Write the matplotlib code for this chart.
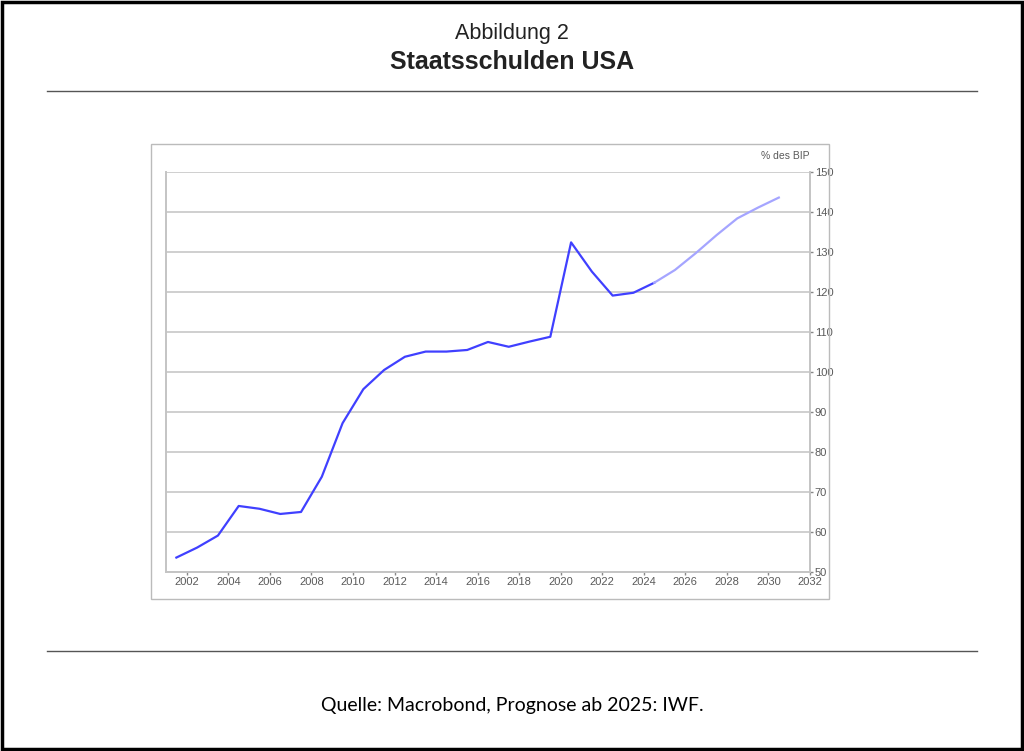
import matplotlib
matplotlib.use("Agg")
import matplotlib.pyplot as plt
from matplotlib.patches import Rectangle
from matplotlib.lines import Line2D

# Staatsschulden USA in % des BIP (ab 2025 Prognose IWF)
years_hist = [2001, 2002, 2003, 2004, 2005, 2006, 2007, 2008, 2009, 2010,
              2011, 2012, 2013, 2014, 2015, 2016, 2017, 2018, 2019, 2020,
              2021, 2022, 2023, 2024]
debt_hist = [53.6, 56.1, 59.1, 66.5, 65.8, 64.5, 65.0, 73.8, 87.2, 95.7,
             100.5, 103.8, 105.1, 105.1, 105.5, 107.5, 106.3, 107.6, 108.8, 132.4,
             125.1, 119.1, 119.8, 122.3]
years_fc = [2024, 2025, 2026, 2027, 2028, 2029, 2030]
debt_fc = [122.3, 125.5, 129.7, 134.2, 138.4, 141.1, 143.6]

x_ticks = list(range(2002, 2033, 2))
y_ticks = list(range(50, 151, 10))

plt.rcParams["font.family"] = ["Liberation Sans", "DejaVu Sans"]

fig = plt.figure(figsize=(10.24, 7.51), dpi=100)
ax = fig.add_axes([0.1621, 0.2384, 0.6289, 0.5326])

# Punkte jeweils zur Jahresmitte
ax.plot([y + 0.5 for y in years_hist], debt_hist, color="#4040ff", lw=1.6,
        solid_joinstyle="round")
ax.plot([y + 0.5 for y in years_fc], debt_fc, color="#a5a5ff", lw=1.6,
        solid_joinstyle="round")

ax.set_xlim(2001, 2032)
ax.set_ylim(50, 150)
ax.set_xticks(x_ticks)
ax.set_yticks(y_ticks)
ax.yaxis.tick_right()
ax.grid(axis="y", color="#cfcfcf", lw=1.4)
ax.set_axisbelow(True)
ax.spines["top"].set_visible(False)
for side in ["left", "right", "bottom"]:
    ax.spines[side].set_color("#c4c4c4")
    ax.spines[side].set_linewidth(1.4)
ax.tick_params(axis="both", labelsize=8, colors="#888888", labelcolor="#5a5a5a",
               length=2, width=1, pad=1.5)
ax.text(1.0, 1.04, "% des BIP", transform=ax.transAxes, ha="right",
        va="center", fontsize=7.5, color="#5a5a5a")

# Rahmen um die Grafik
fig.add_artist(Rectangle((0.1475, 0.2024), 0.662, 0.6059, transform=fig.transFigure,
                         fill=False, edgecolor="#bbbbbb", lw=1))
# Trennlinien
fig.add_artist(Line2D([0.0459, 0.954], [0.8788, 0.8788], color="#555555", lw=1))
fig.add_artist(Line2D([0.0459, 0.954], [0.1332, 0.1332], color="#555555", lw=1))
# äußerer Rahmen
fig.add_artist(Rectangle((0.0015, 0.002), 0.997, 0.996, transform=fig.transFigure,
                         fill=False, edgecolor="black", lw=2.5))

fig.text(0.5, 0.956, "Abbildung 2", ha="center", va="center", fontsize=15.5,
         color="#222222")
fig.text(0.5, 0.918, "Staatsschulden USA", ha="center", va="center", fontsize=18,
         weight="bold", color="#222222")
fig.text(0.5, 0.06, "Quelle: Macrobond, Prognose ab 2025: IWF.", ha="center",
         va="center", fontsize=14, family="Lato", color="black")

fig.savefig("out.png", dpi=100)
